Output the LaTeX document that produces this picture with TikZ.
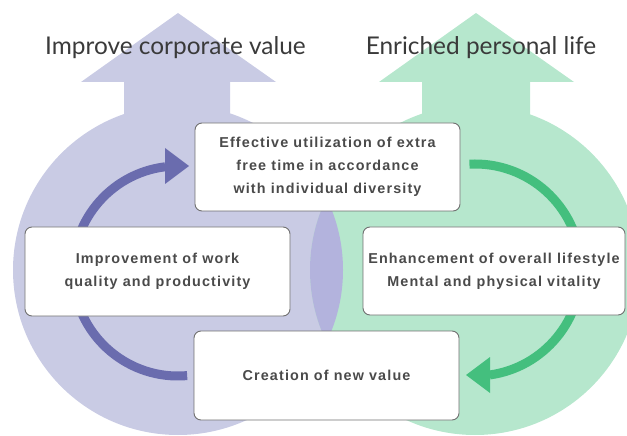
\documentclass[tikz,border=0pt]{standalone}
\usepackage{fontspec}
\setmainfont{Liberation Sans}
\newfontfamily\titlefont{Lato}
\newfontfamily\boxfont[LetterSpace=8]{Liberation Sans}
\definecolor{lav}{HTML}{C9CBE4}
\definecolor{lensc}{HTML}{B3B3DD}
\definecolor{mint}{HTML}{B6E7CD}
\definecolor{bluearc}{HTML}{6A6CAE}
\definecolor{greenarc}{HTML}{44BF7E}
\definecolor{boxline}{HTML}{707070}
\definecolor{txt}{HTML}{4A4A4A}
\definecolor{ttl}{HTML}{3A3A3A}
\begin{document}
\begin{tikzpicture}[x=1bp,y=-1bp,
 box/.style={draw=boxline, line width=0.9bp, fill=white, rounded corners=7bp,
   font=\boxfont\bfseries\fontsize{14.4}{23}\selectfont, text=txt, align=center, inner sep=0pt},
 titletext/.style={font=\titlefont\fontsize{24.5}{28}\selectfont, text=ttl, inner sep=0pt}]
\useasboundingbox (0,0) rectangle (627,436);
% left big arrow
\fill[lav] (178,270) circle[radius=165];
\fill[lav] (124,130) -- (124,82) -- (81,82) -- (178,13) -- (276,82) -- (230,82) -- (230,130) -- cycle;
% right big arrow
\fill[mint] (475,270) circle[radius=165];
\fill[mint] (422,130) -- (422,82) -- (379,82) -- (476,13) -- (574,82) -- (530,82) -- (530,130) -- cycle;
% lens
\begin{scope}
  \clip (178,270) circle[radius=165];
  \fill[lensc] (475,270) circle[radius=165];
\end{scope}
% titles
\node[titletext] (tl) at (175.5,48) {Improve corporate value};
\node[titletext] (tr) at (481,48) {Enriched personal life};
% cycle arcs
\draw[bluearc, line width=9bp] (178,271) ++(85:105) arc[start angle=85, end angle=263, radius=105];
\fill[bluearc] (165,148) -- (189,166) -- (165,184) -- cycle;
\draw[greenarc, line width=9bp] (475,270) ++(267:106) arc[start angle=267, end angle=442, radius=106];
\fill[greenarc] (490,357) -- (466,375) -- (490,393) -- cycle;
% boxes
\node[box, minimum width=265bp, minimum height=88bp] (top) at (327.5,167)
  {Effective utilization of extra\\free time in accordance\\with individual diversity};
\node[box, minimum width=265bp, minimum height=89bp] (left) at (157.5,271.5)
  {Improvement of work\\quality and productivity};
\node[box, minimum width=262bp, minimum height=88bp] (right) at (494,271)
  {Enhancement of overall lifestyle\\Mental and physical vitality};
\node[box, minimum width=265bp, minimum height=89bp] (bottom) at (326.5,375.5)
  {Creation of new value};
\end{tikzpicture}
\end{document}
